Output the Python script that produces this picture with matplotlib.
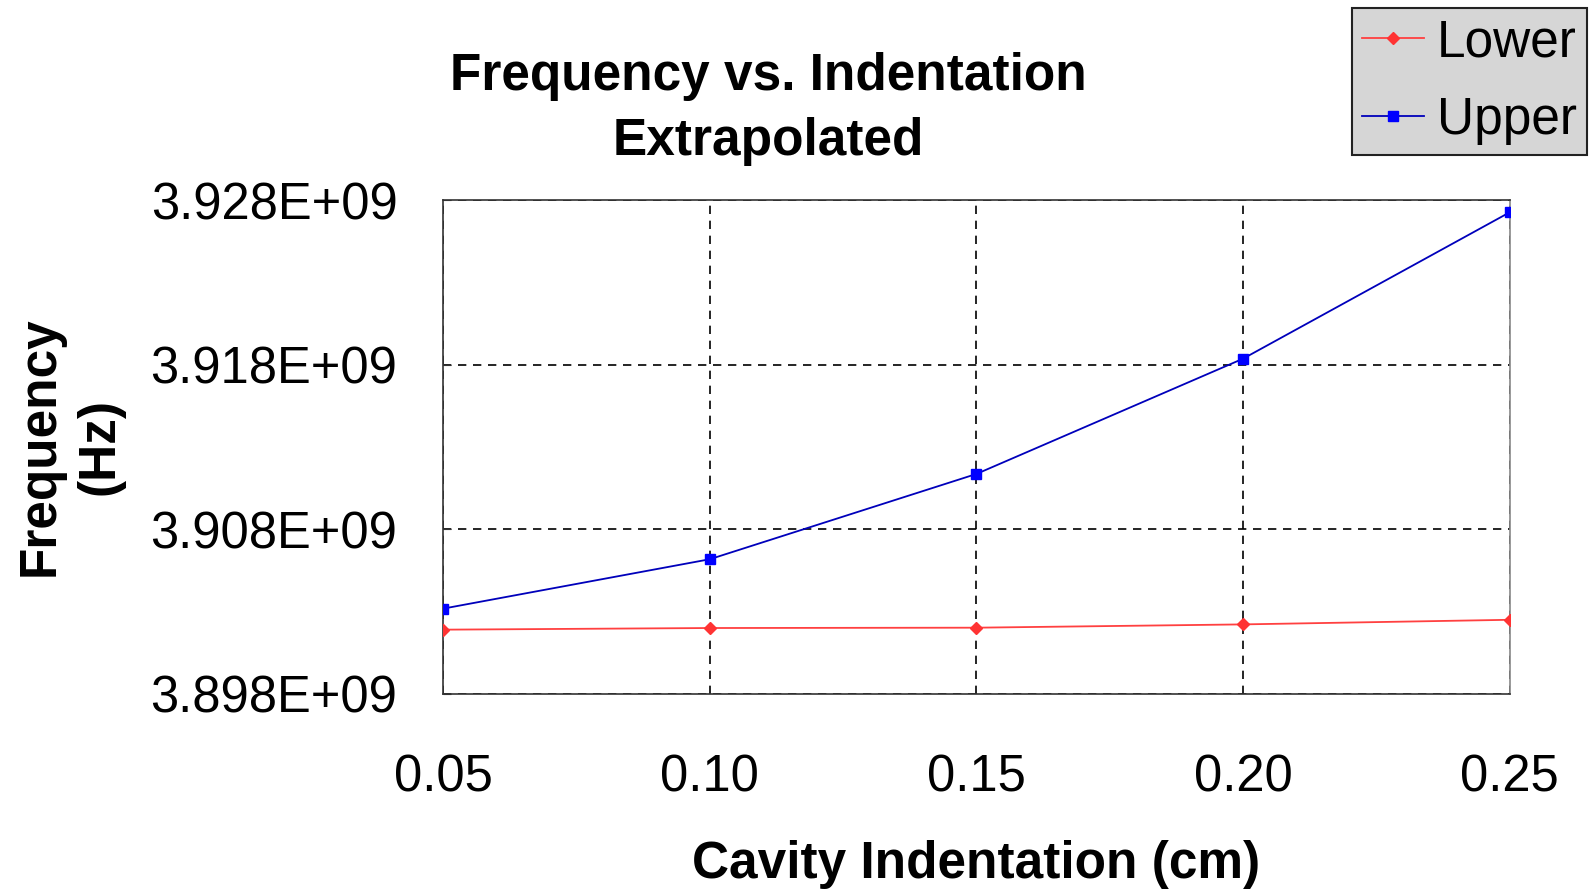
import numpy as np
import matplotlib.pyplot as plt

indentation = [0.05, 0.10, 0.15, 0.20, 0.25]
lower_freq = [3.90190e9, 3.90200e9, 3.90202e9, 3.90222e9, 3.90250e9]
upper_freq = [3.90318e9, 3.90618e9, 3.91136e9, 3.91836e9, 3.92725e9]
y_ticks = [3.898e9, 3.908e9, 3.918e9, 3.928e9]
x_ticks = [0.05, 0.10, 0.15, 0.20, 0.25]

plt.rcParams['font.family'] = ['Liberation Sans', 'DejaVu Sans']

fig = plt.figure(figsize=(15.89, 8.93), dpi=100)
ax = fig.add_axes([0.279, 0.223, 0.671, 0.553])

ax.plot(indentation, lower_freq, color='#ff4040', lw=1.3, marker='D', ms=6,
        mfc='#ff3333', mec='#ff3333', label='Lower', zorder=3)
ax.plot(indentation, upper_freq, color='#0000bb', lw=1.3, marker='s', ms=7,
        mfc='#0000ff', mec='#0000ff', label='Upper', zorder=3)

ax.set_xlim(0.05, 0.25)
ax.set_ylim(3.898e9, 3.928e9)
ax.set_xticks(x_ticks)
ax.set_xticklabels([f'{v:.2f}' for v in x_ticks])
ax.set_yticks(y_ticks)
ax.set_yticklabels([f'{v/1e9:.3f}E+09' for v in y_ticks])
ax.tick_params(axis='both', labelsize=36.5, direction='in', length=6, color='#333333')
ax.tick_params(axis='x', pad=43, length=0)
ax.tick_params(axis='y', pad=33)
ax.grid(True, color='black', linestyle=(0, (5, 4)), lw=1.2)

for s in ax.spines.values():
    s.set_color('#333333')
    s.set_linewidth(1.2)
ax.spines['right'].set_color('#888888')

fig.text(0.6145, 0.032, 'Cavity Indentation (cm)', ha='center', va='center',
         fontsize=37, fontweight='bold')
fig.text(0.044, 0.50, 'Frequency\n(Hz)', ha='center', va='center', rotation=90,
         fontsize=37, fontweight='bold', linespacing=1.3)
fig.text(0.4835, 0.878, 'Frequency vs. Indentation\nExtrapolated', ha='center', va='center',
         fontsize=37, fontweight='bold', linespacing=1.4)

leg = fig.legend(loc='upper right', bbox_to_anchor=(0.9987, 0.991), fontsize=37,
                 frameon=True, fancybox=False, handlelength=1.2, handletextpad=0.25,
                 borderpad=0.2, labelspacing=0.55, borderaxespad=0)
leg.get_frame().set_facecolor('#d6d6d6')
leg.get_frame().set_edgecolor('#222222')
leg.get_frame().set_linewidth(1.5)
leg.get_frame().set_alpha(1)

fig.savefig('out.png', dpi=100)
